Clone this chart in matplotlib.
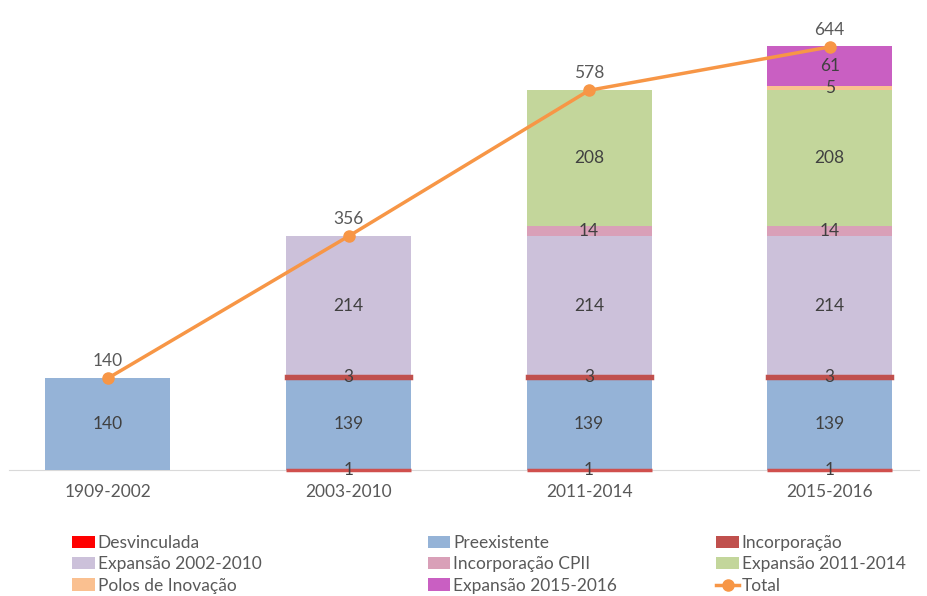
import numpy as np
from matplotlib import pyplot as plt

plt.rcParams['font.family'] = ['Lato', 'DejaVu Sans']

periods = ["1909-2002", "2003-2010", "2011-2014", "2015-2016"]
desvinculada = [0, 1, 1, 1]
preexistente = [140, 139, 139, 139]
incorporacao = [0, 3, 3, 3]
expansao_0210 = [0, 214, 214, 214]
incorporacao_cpii = [0, 0, 14, 14]
expansao_1114 = [0, 0, 208, 208]
polos = [0, 0, 0, 5]
expansao_1516 = [0, 0, 0, 61]
total = [140, 356, 578, 644]

series = [
    ("Desvinculada", desvinculada, "#FF0000"),
    ("Preexistente", preexistente, "#95B3D7"),
    ("Incorporação", incorporacao, "#C0504D"),
    ("Expansão 2002-2010", expansao_0210, "#CCC1DA"),
    ("Incorporação CPII", incorporacao_cpii, "#D9A0B8"),
    ("Expansão 2011-2014", expansao_1114, "#C3D69B"),
    ("Polos de Inovação", polos, "#FAC090"),
    ("Expansão 2015-2016", expansao_1516, "#C95FC2"),
]

fig = plt.figure(figsize=(9.28, 5.96), dpi=100)
ax = fig.add_axes([0.01, 0.211, 0.98, 0.772])
x = np.arange(len(periods))
width = 0.52
bottom = np.zeros(len(periods))
handles = {}
for name, vals, col in series:
    vals = np.array(vals, dtype=float)
    thin = name in ("Desvinculada", "Incorporação")
    lws = [2.5 if (thin and v > 0) else 0 for v in vals]
    edge = "#D0504D" if name == "Desvinculada" else col
    b = ax.bar(x, vals, width, bottom=bottom, color=col, edgecolor=edge,
               linewidth=lws, label=name, zorder=3 if thin else 2)
    for p in b.patches:
        p.set_clip_on(False)
    handles[name] = b
    for i, v in enumerate(vals):
        if v > 0:
            ax.text(x[i], bottom[i] + v / 2, f"{int(v)}", ha="center", va="center",
                    fontsize=12.5, color="#404040", zorder=5)
    bottom += vals

line, = ax.plot(x, total, color="#F79646", lw=2.5, marker="o", markersize=8,
                label="Total", zorder=4)
handles["Total"] = line
for i, v in enumerate(total):
    ax.text(x[i], v + 14, str(v), ha="center", va="bottom", fontsize=12.5, color="#595959")

ax.set_xlim(-0.41, 3.37)
ax.set_ylim(0, 700)
ax.set_xticks(x)
ax.set_xticklabels(periods, fontsize=12.5, color="#595959")
ax.tick_params(axis="x", length=0, pad=10)
ax.set_yticks([])
for s in ["top", "right", "left"]:
    ax.spines[s].set_visible(False)
ax.spines["bottom"].set_color("#D9D9D9")
ax.spines["bottom"].set_zorder(1)

columns = [
    (0.078, ["Desvinculada", "Expansão 2002-2010", "Polos de Inovação"]),
    (0.461, ["Preexistente", "Incorporação CPII", "Expansão 2015-2016"]),
    (0.772, ["Incorporação", "Expansão 2011-2014", "Total"]),
]
for xpos, names in columns:
    leg = fig.legend([handles[n] for n in names], names, loc="upper left",
                     bbox_to_anchor=(xpos, 0.102), frameon=False, fontsize=12.5,
                     handlelength=1.3, handletextpad=0.15, labelspacing=0.3,
                     borderaxespad=0, borderpad=0)
    for t in leg.get_texts():
        t.set_color("#595959")

fig.savefig("out.png", dpi=100)
